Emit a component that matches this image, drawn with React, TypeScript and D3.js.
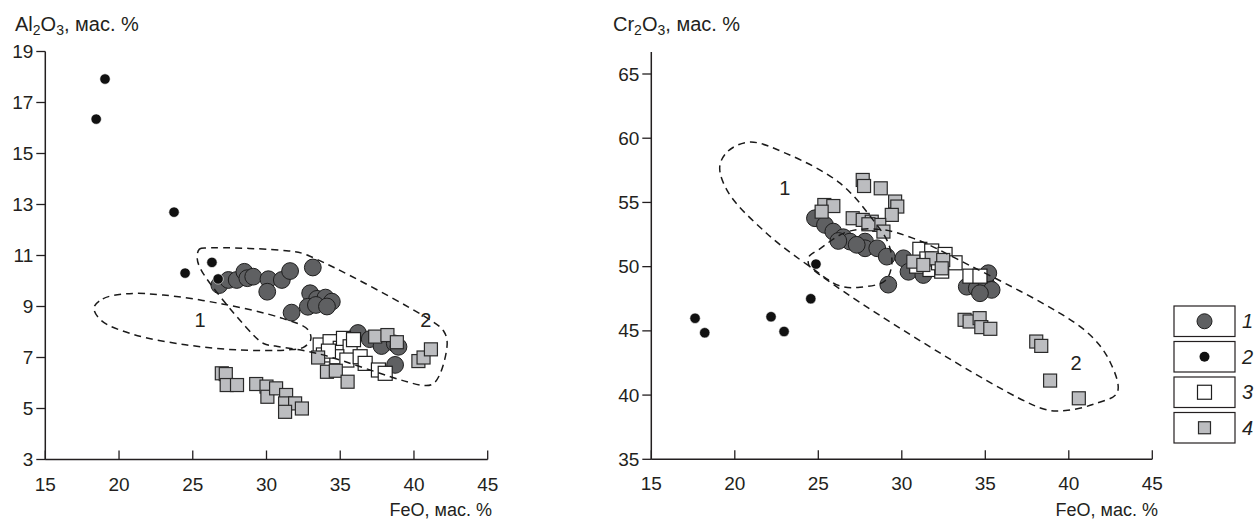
import React from "react";
import * as d3 from "d3";

type P = [number, number];

// ---------- shared ticks ----------
const feoTicks = [15, 20, 25, 30, 35, 40, 45];
const alTicks = [3, 5, 7, 9, 11, 13, 15, 17, 19];
const crTicks = [35, 40, 45, 50, 55, 60, 65];
const legendLabels = ["1", "2", "3", "4"];

// ---------- left plot: FeO vs Al2O3 ----------
const alSeries1: P[] = [
  [26.8, 9.84], [27.42, 10.04], [27.98, 10.04], [28.5, 10.36], [28.7, 10.11], [29.1, 10.17],
  [30.13, 10.07], [30.05, 9.58], [31.04, 10.04], [31.6, 10.39], [33.14, 10.53], [32.96, 9.52],
  [33.43, 9.3], [34.0, 9.35], [34.43, 9.19], [32.8, 8.99], [33.35, 9.06], [34.1, 9.0],
  [31.7, 8.76], [36.2, 7.96], [37.0, 7.72], [37.8, 7.45], [38.7, 7.55], [38.95, 7.42], [38.72, 6.71],
];
const alSeries2: P[] = [
  [18.45, 16.35], [19.05, 17.92], [23.73, 12.7], [24.48, 10.31], [26.3, 10.73], [26.72, 10.08],
];
const alSeries3: P[] = [
  [33.64, 7.49], [34.31, 7.62], [35.0, 7.36], [35.22, 7.75], [35.67, 7.42], [33.86, 7.1],
  [34.77, 7.03], [35.45, 6.9], [36.35, 7.03], [36.69, 6.77], [37.59, 6.51], [38.05, 6.38],
  [35.9, 7.7], [34.2, 7.25],
];
const alSeries4: P[] = [
  [33.5, 7.0], [34.1, 6.44], [34.7, 6.48], [35.5, 6.05], [37.37, 7.82], [38.2, 7.88], [38.84, 7.6],
  [40.3, 6.86], [40.65, 7.0], [41.15, 7.32],
  [26.97, 6.38], [27.24, 6.35], [27.3, 5.92], [28.0, 5.92], [29.3, 5.96], [30.0, 5.86],
  [30.06, 5.46], [30.65, 5.79], [31.33, 5.53], [31.26, 5.2], [31.94, 5.2], [31.26, 4.87], [32.4, 5.0],
];
const alField1: P[] = [
  [18.3, 8.95], [18.9, 9.3], [20.5, 9.5], [23.0, 9.45], [27.0, 9.1], [31.0, 8.55], [32.8, 8.1],
  [33.0, 7.7], [32.5, 7.4], [31.5, 7.3], [28.0, 7.3], [24.5, 7.5], [21.0, 7.9], [18.8, 8.45],
];
const alField2: P[] = [
  [25.3, 10.9], [25.45, 11.25], [26.0, 11.3], [31.5, 11.18], [32.6, 11.05], [41.3, 8.4],
  [42.0, 8.05], [42.25, 7.6], [41.8, 6.4], [41.3, 5.97], [40.7, 5.9], [33.5, 7.15], [30.6, 7.45],
  [29.8, 7.55], [28.6, 8.2], [25.6, 10.4],
];
const alFieldLabels: { t: string; p: P }[] = [
  { t: "1", p: [25.5, 8.47] },
  { t: "2", p: [40.8, 8.47] },
];

// ---------- right plot: FeO vs Cr2O3 ----------
const crSeries1: P[] = [
  [24.8, 53.77], [25.4, 53.25], [25.9, 52.73], [26.5, 52.29], [26.9, 51.95], [27.8, 51.95],
  [27.8, 51.43], [28.53, 51.43], [29.1, 50.78], [29.19, 48.6], [30.1, 50.65], [30.4, 49.6],
  [31.29, 49.35], [31.8, 49.9], [33.89, 48.44], [34.49, 48.32], [35.08, 48.57], [35.38, 48.19],
  [34.68, 47.93], [35.18, 49.49], [26.2, 52.0], [27.3, 51.7],
];
const crSeries2: P[] = [
  [17.62, 45.98], [18.2, 44.85], [22.17, 46.1], [22.95, 44.95], [24.55, 47.5], [24.86, 50.2],
];
const crSeries3: P[] = [
  [31.08, 51.35], [31.79, 51.22], [32.59, 50.95], [33.19, 50.3], [30.89, 50.04], [31.69, 49.78],
  [34.08, 49.26], [34.68, 49.26], [32.39, 49.65], [31.5, 50.6], [32.2, 50.3],
];
const crSeries4: P[] = [
  [27.66, 56.75], [27.74, 56.28], [28.74, 56.1], [29.6, 55.07], [29.73, 54.68], [29.4, 54.03],
  [25.36, 54.8], [25.9, 54.72], [25.2, 54.28], [27.06, 53.77], [27.66, 53.64], [28.2, 53.5],
  [28.65, 53.25], [28.9, 52.73], [28.0, 53.3],
  [30.69, 50.39], [31.79, 50.65], [32.48, 50.52], [31.29, 50.13], [32.39, 49.87],
  [33.76, 45.86], [34.06, 45.73], [34.66, 45.99], [34.76, 45.29], [35.3, 45.16],
  [38.05, 44.17], [38.35, 43.83], [38.88, 41.13], [40.6, 39.75],
];
const crField1: P[] = [
  [19.1, 57.8], [19.6, 59.0], [20.9, 59.7], [23.1, 58.8], [26.3, 56.5], [28.3, 53.6], [29.2, 51.8],
  [29.4, 50.2], [29.0, 48.9], [27.5, 48.4], [26.3, 48.5], [24.5, 50.0], [21.9, 52.6], [19.6, 55.8],
];
const crField2: P[] = [
  [24.4, 50.3], [24.45, 50.8], [25.0, 51.3], [26.7, 52.7], [28.7, 52.9], [30.7, 52.2], [33.3, 50.6],
  [41.0, 45.0], [42.5, 42.5], [42.9, 40.2], [41.5, 39.3], [39.8, 38.8], [38.3, 39.0], [24.5, 50.0],
];
const crFieldLabels: { t: string; p: P }[] = [
  { t: "1", p: [23.0, 56.1] },
  { t: "2", p: [40.44, 42.5] },
];

const FONT = "'Liberation Sans', Arial, Helvetica, sans-serif";
const INK = "#231f20";

type PlotProps = {
  xRange: [number, number];
  yDomain: [number, number];
  yRange: [number, number];
  yAxisTop: number;
  yTicks: number[];
  s1: P[]; s2: P[]; s3: P[]; s4: P[];
  fields: P[][];
  labels: { t: string; p: P }[];
  title: [string, string, string];
  titleX: number;
  xTitleEnd: number;
};

function Plot(props: PlotProps) {
  const x = d3.scaleLinear().domain([15, 45]).range(props.xRange);
  const y = d3.scaleLinear().domain(props.yDomain).range(props.yRange);
  const x0 = props.xRange[0];
  const y0 = props.yRange[0];
  const line = d3
    .line<P>()
    .x((d) => x(d[0]))
    .y((d) => y(d[1]))
    .curve(d3.curveCatmullRomClosed.alpha(0.5));
  return (
    <g>
      {props.s1.map((d, i) => (
        <circle key={"c" + i} cx={x(d[0])} cy={y(d[1])} r={8.4} fill="#5f6062" stroke="#1e1e1e" strokeWidth={1} />
      ))}
      {props.s3.map((d, i) => (
        <rect key={"w" + i} x={x(d[0]) - 7} y={y(d[1]) - 7} width={14} height={14} fill="#ffffff" stroke="#1e1e1e" strokeWidth={1.2} />
      ))}
      {props.s4.map((d, i) => (
        <rect key={"g" + i} x={x(d[0]) - 6.5} y={y(d[1]) - 6.5} width={13} height={13} fill="#bcbdc0" stroke="#2a2a2a" strokeWidth={1.2} />
      ))}
      {props.s2.map((d, i) => (
        <circle key={"d" + i} cx={x(d[0])} cy={y(d[1])} r={5.2} fill="#111111" stroke="#ffffff" strokeWidth={0.6} />
      ))}
      {props.fields.map((f, i) => (
        <path key={"f" + i} d={line(f) || ""} fill="none" stroke="#1a1a1a" strokeWidth={1.5} strokeDasharray="7 5" />
      ))}
      {props.labels.map((l, i) => (
        <text key={"l" + i} x={x(l.p[0])} y={y(l.p[1])} fontFamily={FONT} fontSize={20} fill={INK} textAnchor="middle" dominantBaseline="central">
          {l.t}
        </text>
      ))}
      <line x1={x0} x2={x0} y1={y0} y2={props.yAxisTop} stroke={INK} strokeWidth={1.5} />
      <line x1={x0} x2={props.xRange[1]} y1={y0} y2={y0} stroke={INK} strokeWidth={1.5} />
      {props.yTicks.map((t) => (
        <g key={"yt" + t}>
          <line x1={x0 - 9} x2={x0} y1={y(t)} y2={y(t)} stroke={INK} strokeWidth={1.3} />
          <text x={x0 - 12} y={y(t)} fontFamily={FONT} fontSize={19} fill={INK} textAnchor="end" dominantBaseline="central">
            {t}
          </text>
        </g>
      ))}
      {feoTicks.map((t) => (
        <g key={"xt" + t}>
          <line x1={x(t)} x2={x(t)} y1={y0} y2={y0 - 9} stroke={INK} strokeWidth={1.3} />
          <text x={x(t)} y={y0 + 31} fontFamily={FONT} fontSize={19} fill={INK} textAnchor="middle">
            {t}
          </text>
        </g>
      ))}
      <text x={props.titleX} y={31} fontFamily={FONT} fontSize={20} fill={INK}>
        {props.title[0]}
        <tspan fontSize={14} dy={4}>2</tspan>
        <tspan dy={-4}>{props.title[1]}</tspan>
        <tspan fontSize={14} dy={4}>3</tspan>
        <tspan dy={-4}>{props.title[2]}</tspan>
      </text>
      <text x={props.xTitleEnd} y={516} fontFamily={FONT} fontSize={18} fill={INK} textAnchor="end">
        FeO, мас. %
      </text>
    </g>
  );
}

function Legend() {
  const left = 1174;
  const w = 61;
  const h = 30.5;
  const tops = legendLabels.map((_, i) => 306 + i * 35.5);
  return (
    <g>
      {legendLabels.map((lab, i) => {
        const cy = tops[i] + h / 2;
        const cx = left + w / 2;
        return (
          <g key={lab}>
            <rect x={left} y={tops[i]} width={w} height={h} fill="#ffffff" stroke={INK} strokeWidth={1.2} />
            {i === 0 && <circle cx={cx} cy={cy} r={7.5} fill="#5f6062" stroke="#1e1e1e" strokeWidth={1} />}
            {i === 1 && <circle cx={cx} cy={cy} r={5} fill="#111111" />}
            {i === 2 && <rect x={cx - 7} y={cy - 7} width={14} height={14} fill="#fff" stroke="#1e1e1e" strokeWidth={1.2} />}
            {i === 3 && <rect x={cx - 6} y={cy - 6} width={12} height={12} fill="#bcbdc0" stroke="#2a2a2a" strokeWidth={1.2} />}
            <text x={1242} y={cy} fontFamily={FONT} fontSize={20} fontStyle="italic" fill={INK} dominantBaseline="central">
              {lab}
            </text>
          </g>
        );
      })}
    </g>
  );
}

export default function App() {
  return (
    <svg
      width={1259}
      height={521}
      viewBox="0 0 1259 521"
      style={{ position: "absolute", left: 0, top: 0, background: "#fff" }}
    >
      <rect width={1259} height={521} fill="#fff" />
      <Plot
        xRange={[45.3, 487.7]}
        yDomain={[3, 19]}
        yRange={[459.5, 51.5]}
        yAxisTop={51.5}
        yTicks={alTicks}
        s1={alSeries1}
        s2={alSeries2}
        s3={alSeries3}
        s4={alSeries4}
        fields={[alField1, alField2]}
        labels={alFieldLabels}
        title={["Al", "O", ", мас. %"]}
        titleX={15}
        xTitleEnd={492}
      />
      <Plot
        xRange={[651.3, 1152.3]}
        yDomain={[35, 65]}
        yRange={[459.3, 74]}
        yAxisTop={52}
        yTicks={crTicks}
        s1={crSeries1}
        s2={crSeries2}
        s3={crSeries3}
        s4={crSeries4}
        fields={[crField1, crField2]}
        labels={crFieldLabels}
        title={["Cr", "O", ", мас. %"]}
        titleX={613}
        xTitleEnd={1158}
      />
      <Legend />
    </svg>
  );
}
